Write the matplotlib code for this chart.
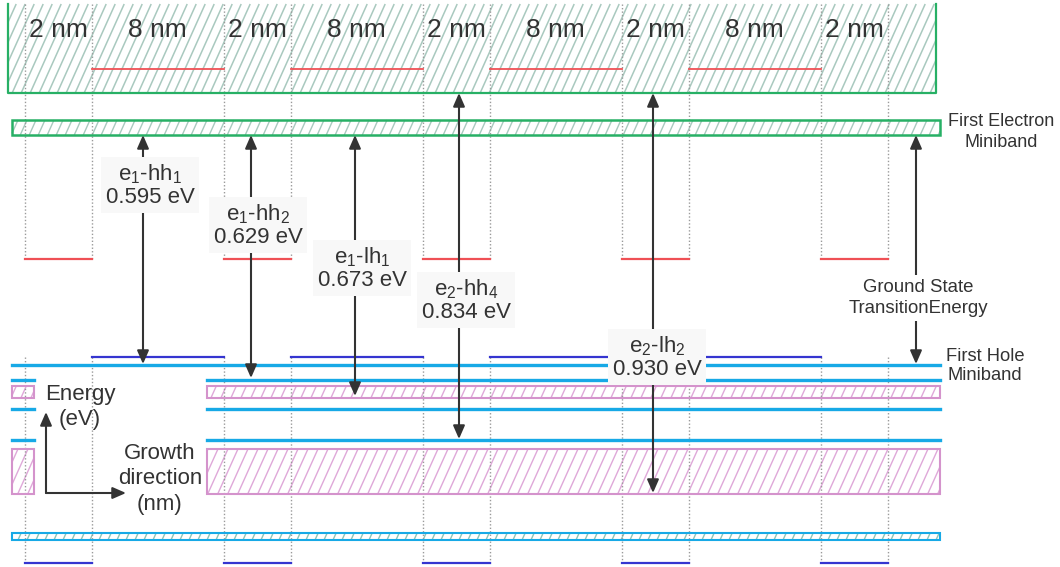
import matplotlib
matplotlib.use('Agg')
import matplotlib.pyplot as plt
from matplotlib.patches import Rectangle
from matplotlib.collections import LineCollection
import numpy as np

plt.rcParams['font.family'] = ['Liberation Sans', 'DejaVu Sans']
plt.rcParams['mathtext.fontset'] = 'custom'
plt.rcParams['mathtext.rm'] = 'Liberation Sans'
plt.rcParams['mathtext.default'] = 'regular'

# superlattice layers (drawn left to right)
layer_nm = [2, 8, 2, 8, 2, 8, 2, 8, 2]
layer_labels = ['%d nm' % t for t in layer_nm]
draw_width = {2: 66.5, 8: 132.5}   # schematic widths (not to scale)
x_start = 25

# schematic energy positions (screen units, larger = lower energy)
cb_top = 4
cb_well_level = 69          # red levels in 8 nm layers
cb_box_bottom = 93
e_miniband = (120, 135)
cb_barrier_level = 259      # red levels in 2 nm layers
vb_well_edge = 357          # blue edges in 8 nm layers
hole_lines = [365, 380, 409, 440]
hole_bands = [(386, 398), (449, 494)]
deep_band = (533, 540)
vb_barrier_edge = 563

# transitions
trans_names = [r'e$_1$-hh$_1$', r'e$_1$-hh$_2$', r'e$_1$-lh$_1$', r'e$_2$-hh$_4$', r'e$_2$-lh$_2$']
trans_ev = [0.595, 0.629, 0.673, 0.834, 0.930]
trans_x = [143, 251, 355, 459, 653]
trans_top = [135, 135, 135, 93, 93]
trans_bottom = [364, 378, 396, 439, 493]
label_xy = [(150, 185), (258, 225), (362, 268), (466, 300), (657, 357)]

TXT = '#333333'
GREEN = '#27b065'
GREEN_H = '#a9c9bf'
RED = '#ef5055'
BLUE = '#3535d0'
CYAN = '#17a9e6'
PINK = '#d493cc'
PINK_H = '#dfa8d9'

fig = plt.figure(figsize=(10.6, 5.67), dpi=100)
ax = fig.add_axes([0, 0, 1, 1])
ax.set_xlim(0, 1060)
ax.set_ylim(567, 0)
ax.axis('off')


def hatch(x0, x1, y0, y1, color, step=9.0, k=0.45, lw=1.0, z=1):
    # diagonal lines x + k*y = C, cut to the rectangle
    segs = []
    c0 = np.floor((x0 + k * y0) / step) * step
    for c in np.arange(c0, x1 + k * y1 + step, step):
        ya = max(y0, (c - x1) / k)
        yb = min(y1, (c - x0) / k)
        if yb > ya:
            segs.append([(c - k * yb, yb), (c - k * ya, ya)])
    ax.add_collection(LineCollection(segs, colors=color, linewidths=lw, zorder=z))


def band(x0, x1, y0, y1, edge, hcol, elw=1.6, step=9.0, hlw=1.0):
    hatch(x0, x1, y0, y1, hcol, step=step, lw=hlw)
    ax.add_patch(Rectangle((x0, y0), x1 - x0, y1 - y0, fill=False,
                           ec=edge, lw=elw, zorder=2))


# layer boundaries
edges = [x_start]
for t in layer_nm:
    edges.append(edges[-1] + draw_width[t])
left, right = 12, 940
gap = (34, 207)   # space kept clear for the axis sketch

# conduction band block
hatch(8, 936, cb_top, cb_box_bottom, GREEN_H, lw=1.1)
ax.plot([8, 8, 936, 936], [cb_top, cb_box_bottom, cb_box_bottom, cb_top],
        color=GREEN, lw=1.6, zorder=3)

# dotted layer boundaries
for xb in edges:
    ax.plot([xb, xb], [cb_top, cb_barrier_level], color='#9a9a9a', lw=1,
            ls=(0, (1, 1.5)), zorder=2)
    ax.plot([xb, xb], [vb_well_edge, vb_barrier_edge], color='#9a9a9a', lw=1,
            ls=(0, (1, 1.5)), zorder=2)

# layer labels and confined levels
for i, t in enumerate(layer_nm):
    a, b = edges[i], edges[i + 1]
    ax.text((a + b) / 2, 30, layer_labels[i], ha='center', va='center',
            fontsize=19, color=TXT, zorder=4)
    if t == 8:
        ax.plot([a, b], [cb_well_level] * 2, color=RED, lw=1.3, zorder=3)
        ax.plot([a, b], [vb_well_edge] * 2, color=BLUE, lw=1.6, zorder=3)
    else:
        ax.plot([a, b], [cb_barrier_level] * 2, color=RED, lw=1.6, zorder=3)
        ax.plot([a, b], [vb_barrier_edge] * 2, color=BLUE, lw=1.6, zorder=3)

# electron miniband
band(left, right, e_miniband[0], e_miniband[1], GREEN, GREEN_H, elw=1.8)

# hole levels
for j, y in enumerate(hole_lines):
    if j == 0:
        ax.plot([left, right], [y, y], color=CYAN, lw=2.4, zorder=3)
    else:
        ax.plot([left, gap[0]], [y, y], color=CYAN, lw=2.4, zorder=3)
        ax.plot([gap[1], right], [y, y], color=CYAN, lw=2.4, zorder=3)
for y0, y1 in hole_bands:
    band(left, gap[0], y0, y1, PINK, PINK_H, elw=1.5, step=10)
    band(gap[1], right, y0, y1, PINK, PINK_H, elw=1.5, step=10)
band(left, right, deep_band[0], deep_band[1], CYAN, '#8fc4b6', elw=1.5, step=9)

arrow_style = '<|-|>,head_length=0.8,head_width=0.35'

# transitions
for name, ev, x, yt, yb, (lx, ly) in zip(trans_names, trans_ev, trans_x,
                                         trans_top, trans_bottom, label_xy):
    ax.annotate('', xy=(x, yb), xytext=(x, yt),
                arrowprops=dict(arrowstyle=arrow_style, mutation_scale=10,
                                color=TXT, lw=1.5, shrinkA=0, shrinkB=0),
                zorder=4)
    ax.text(lx, ly, '%s\n%.3f eV' % (name, ev), ha='center', va='center',
            fontsize=16, color=TXT, linespacing=1.05, zorder=6,
            bbox=dict(boxstyle='square,pad=0.22', fc='#f8f8f8', ec='none'))

# ground state transition
ax.annotate('', xy=(916, hole_lines[0] - 1), xytext=(916, e_miniband[1]),
            arrowprops=dict(arrowstyle=arrow_style, mutation_scale=10,
                            color=TXT, lw=1.5, shrinkA=0, shrinkB=0), zorder=4)
ax.text(918, 298, 'Ground State\nTransitionEnergy', ha='center', va='center',
        fontsize=13.4, color=TXT, linespacing=1.3, zorder=6,
        bbox=dict(boxstyle='square,pad=0.2', fc='white', ec='none'))

ax.text(1001, 132, 'First Electron\nMiniband', ha='center', va='center',
        fontsize=13, color=TXT, linespacing=1.35)
ax.text(985, 366, 'First Hole\nMiniband', ha='center', va='center',
        fontsize=13.2, color=TXT, linespacing=1.2)

# axis sketch
for tip in [(46, 412), (126, 493)]:
    ax.annotate('', xy=tip, xytext=(46, 493),
                arrowprops=dict(arrowstyle='-|>,head_length=0.8,head_width=0.35',
                                mutation_scale=10, color=TXT, lw=1.5,
                                shrinkA=0, shrinkB=0))
ax.text(80, 407, 'Energy\n(eV)', ha='center', va='center', fontsize=16,
        color=TXT, linespacing=1.3)
ax.text(160, 479, 'Growth\ndirection\n(nm)', ha='center', va='center',
        fontsize=16, color=TXT, linespacing=1.28)

fig.savefig('out.png', dpi=100)
